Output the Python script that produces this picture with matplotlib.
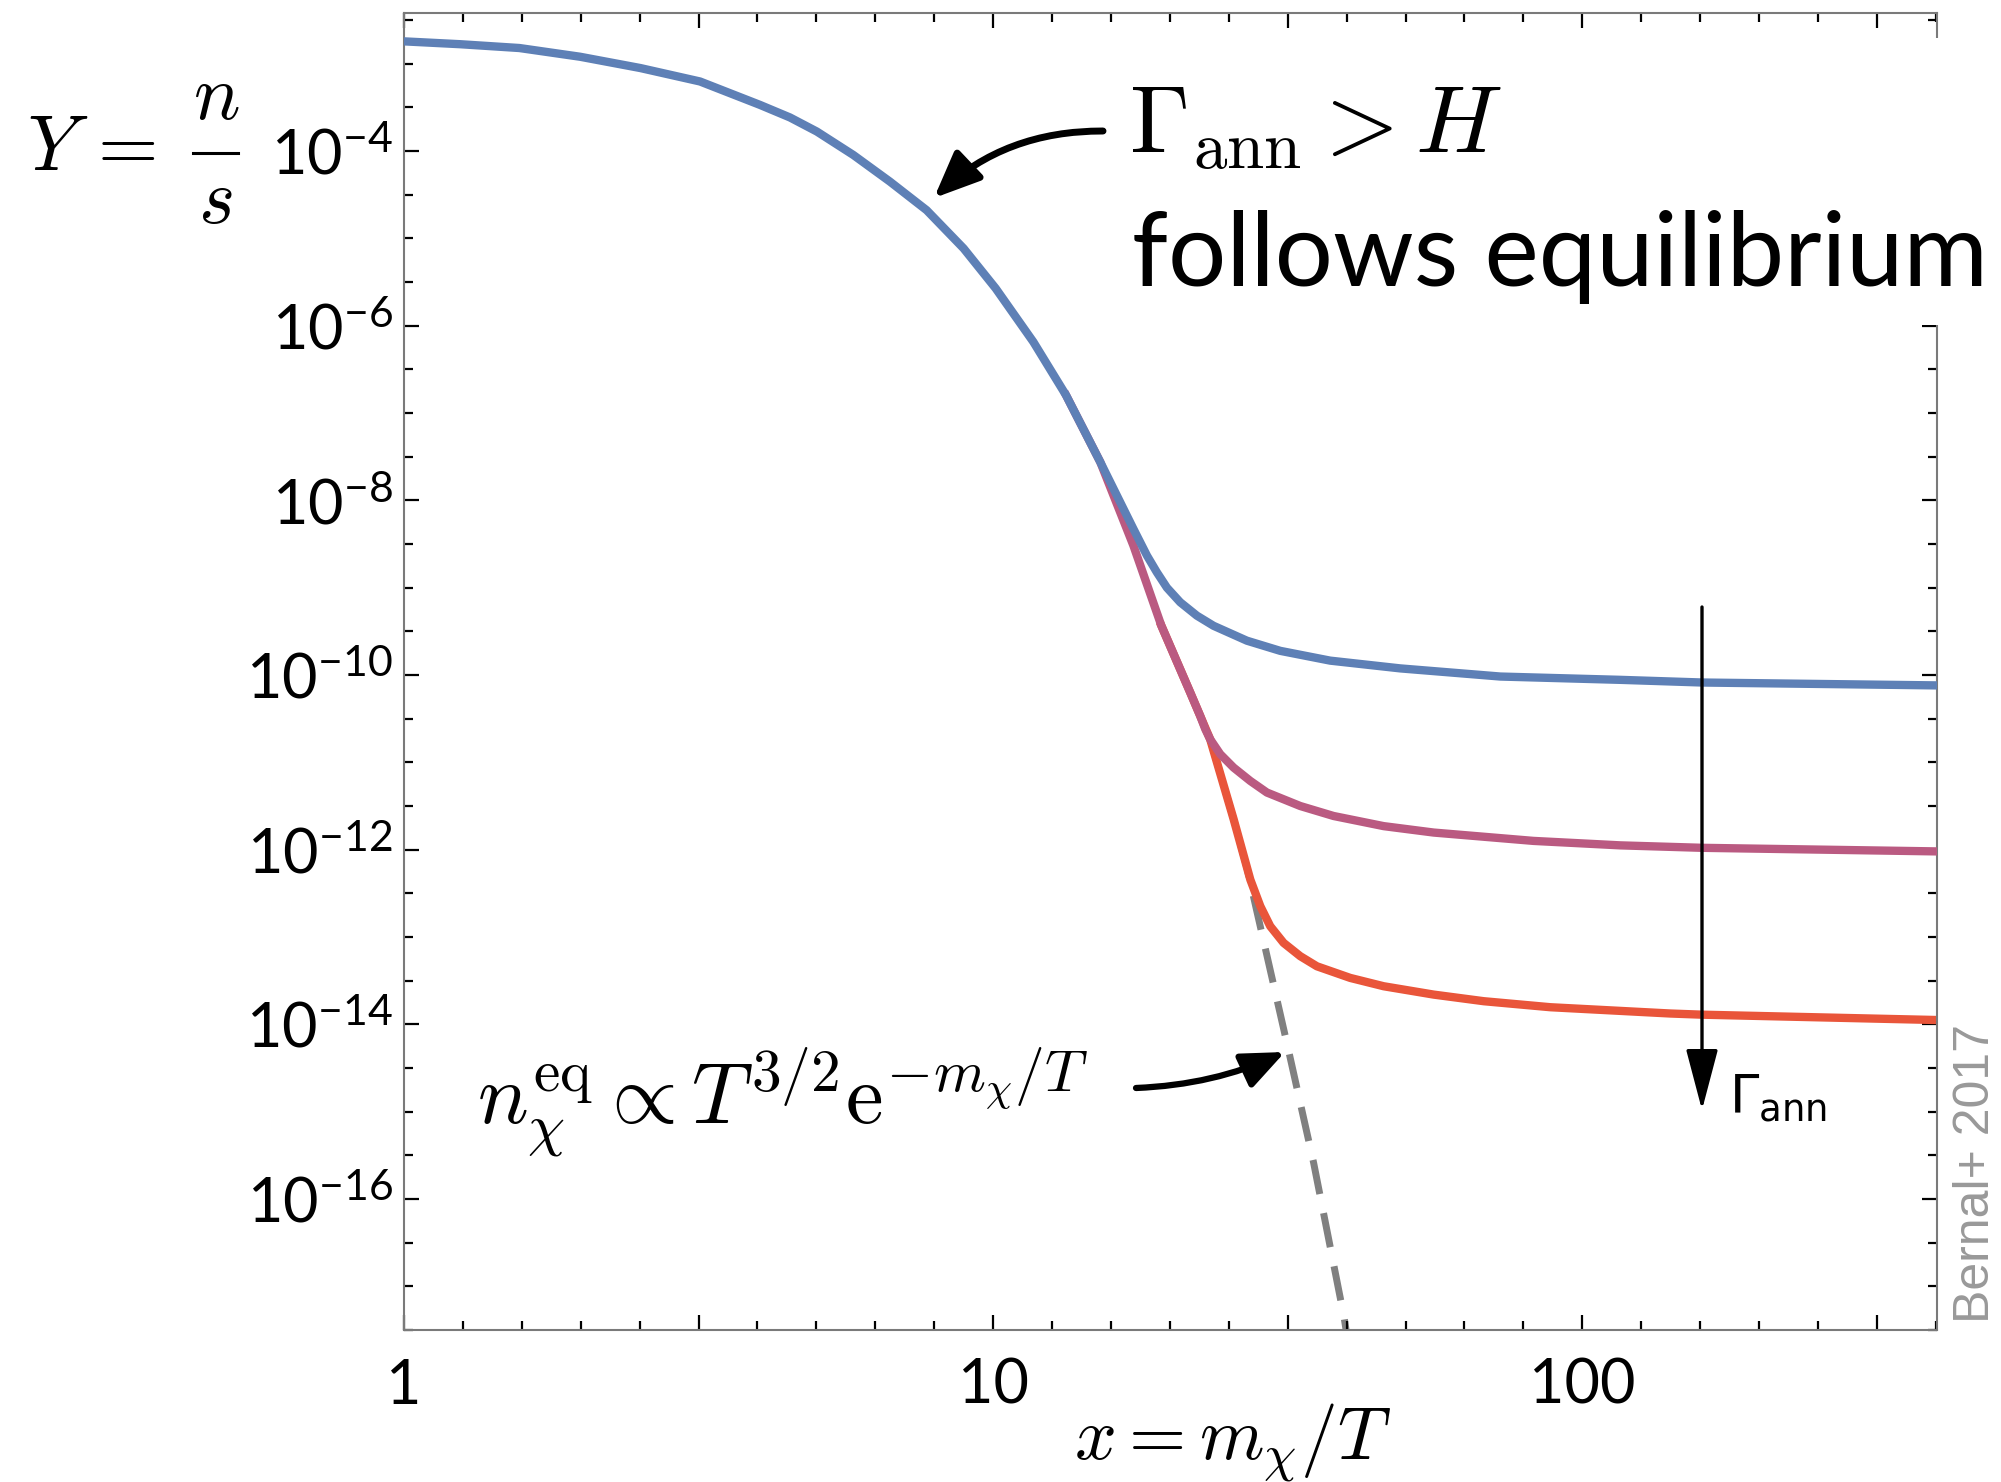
import numpy as np
import matplotlib
matplotlib.use("Agg")
import matplotlib.pyplot as plt
from matplotlib.patches import Rectangle, FancyArrowPatch
from matplotlib.lines import Line2D
from matplotlib.ticker import FixedLocator, NullFormatter

W, H = 2001, 1482

# curves: x = m/T, Y = n/s
x_blue = [1.0, 1.245, 1.57, 1.99, 2.52, 3.18, 4.02, 4.52, 5.02, 5.79, 6.68,
          7.71, 8.91, 10.1, 11.7, 13.3, 15.2, 17.3, 18.24, 18.96, 19.72,
          20.77, 22.17, 23.66, 26.96, 30.71, 37.33, 49.09, 72.6, 116.0,
          160.0, 400.0]
y_blue = [1.80e-3, 1.67e-3, 1.51e-3, 1.20e-3, 8.9e-4, 6.25e-4, 3.37e-4,
          2.42e-4, 1.67e-4, 9.0e-5, 4.46e-5, 2.10e-5, 7.66e-6, 2.67e-6,
          6.52e-7, 1.59e-7, 2.74e-8, 4.71e-9, 2.33e-9, 1.50e-9, 1.0e-9,
          6.81e-10, 4.78e-10, 3.66e-10, 2.47e-10, 1.89e-10, 1.46e-10,
          1.19e-10, 9.6e-11, 8.8e-11, 8.2e-11, 7.6e-11]

x_purple = [13.3, 15.2, 17.3, 19.3, 21.6, 22.46, 22.91, 23.35, 24.29, 25.59,
            27.32, 29.15, 33.21, 37.82, 46.0, 55.94, 82.6, 116.0, 159.6,
            400.0]
y_purple = [1.59e-7, 2.74e-8, 3.03e-9, 3.66e-10, 6.31e-11, 3.40e-11,
            2.40e-11, 1.84e-11, 1.24e-11, 8.71e-12, 6.12e-12, 4.51e-12,
            3.16e-12, 2.43e-12, 1.86e-12, 1.57e-12, 1.26e-12, 1.12e-12,
            1.05e-12, 9.55e-13]

x_red = [19.3, 21.6, 23.35, 25.59, 27.32, 28.41, 29.53, 31.11, 33.21, 35.44,
         40.37, 46.0, 55.94, 68.02, 88.26, 141.1, 159.6, 400.0]
y_red = [3.66e-10, 6.31e-11, 1.84e-11, 2.24e-12, 4.54e-13, 2.25e-13,
         1.33e-13, 8.57e-14, 6.03e-14, 4.62e-14, 3.40e-14, 2.73e-14,
         2.19e-14, 1.84e-14, 1.57e-14, 1.33e-14, 1.29e-14, 1.12e-14]

# equilibrium (dashed)
x_eq = [23.35, 25.59, 27.0, 31.7, 35.0, 39.4, 39.8]
y_eq = [1.84e-11, 2.24e-12, 5.94e-13, 5.13e-15, 2.57e-16, 4.47e-18, 2.9e-18]

x_major = [1.0, 10**0.5, 10.0, 10**1.5, 100.0, 10**2.5]
x_labels = ["1", "", "10", "", "100", ""]
y_major = [1e-4, 1e-6, 1e-8, 1e-10, 1e-12, 1e-14, 1e-16]
y_labels = [r"$\mathregular{10^{-4}}$", r"$\mathregular{10^{-6}}$",
            r"$\mathregular{10^{-8}}$", r"$\mathregular{10^{-10}}$",
            r"$\mathregular{10^{-12}}$", r"$\mathregular{10^{-14}}$",
            r"$\mathregular{10^{-16}}$"]

plt.rcParams["mathtext.fontset"] = "cm"
plt.rcParams["font.family"] = ["Lato", "DejaVu Sans"]


def fx(X):
    return X / W


def fy(Y):
    return 1 - Y / H


fig = plt.figure(figsize=(W / 100, H / 100), dpi=100)
ax = fig.add_axes([fx(404), fy(1330), (1937 - 404) / W, (1330 - 13) / H])
ax.set_xscale("log")
ax.set_yscale("log")

ax.plot(x_eq, y_eq, color="#808080", lw=5.0, dashes=(5.0, 2.8), zorder=1)
ax.plot(x_red, y_red, color="#E9553A", lw=6.0, zorder=2)
ax.plot(x_purple, y_purple, color="#BA5A81", lw=6.0, zorder=3)
ax.plot(x_blue, y_blue, color="#5E80B6", lw=6.0, zorder=4)

ax.set_xlim(1, 10**2.602)
ax.set_ylim(10**-17.5, 10**-2.42)

ax.set_xticks(x_major, x_labels)
ax.set_yticks(y_major, y_labels)
ax.xaxis.set_minor_locator(FixedLocator(10**np.arange(0, 2.65, 0.1)))
ax.yaxis.set_minor_locator(FixedLocator(10**np.arange(-17.5, -2.4, 0.5)))
ax.xaxis.set_minor_formatter(NullFormatter())
ax.yaxis.set_minor_formatter(NullFormatter())

ax.tick_params(which="both", direction="in", top=True, right=True,
               color="black", width=1.6, labelsize=44)
ax.tick_params(axis="x", pad=20)
ax.tick_params(axis="y", pad=8)
ax.tick_params(which="major", length=10.8)
ax.tick_params(which="minor", length=6.5)
for s in ax.spines.values():
    s.set_color("#7a7a7a")
    s.set_linewidth(1.5)

# white box behind the top-right text (hides the right frame there)
fig.add_artist(Rectangle((fx(1115), fy(325)), 1 - fx(1115), (325 - 38) / H,
                         transform=fig.transFigure, facecolor="white",
                         edgecolor="none", zorder=1))

# Y = n / s, built from pieces so the fraction is full size
fig.text(fx(27), fy(170), r"$Y\,=$", fontsize=56, ha="left", va="baseline")
fig.text(fx(216), fy(119), r"$n$", fontsize=56, ha="center", va="baseline")
fig.text(fx(215), fy(223), r"$s$", fontsize=56, ha="center", va="baseline")
fig.add_artist(Line2D([fx(193), fx(238)], [fy(153), fy(153)],
                      transform=fig.transFigure, color="black", lw=2.2))

fig.text(fx(1233), fy(1460), r"$x=m_\chi/T$", fontsize=53,
         ha="center", va="baseline")
fig.text(fx(1129), fy(153), r"$\Gamma_\mathrm{ann}>H$", fontsize=69,
         ha="left", va="baseline")
fig.text(fx(1132), fy(286), "follows equilibrium", fontsize=74,
         ha="left", va="baseline")
fig.text(fx(477), fy(1123),
         r"$n_\chi^\mathrm{eq}\propto T^{3/2}\mathrm{e}^{-m_\chi/T}$",
         fontsize=61, ha="left", va="baseline")
fig.text(fx(1729), fy(1113), r"$\Gamma_\mathrm{ann}$", fontsize=38,
         math_fontfamily="dejavusans", ha="left", va="baseline")
fig.text(fx(1976), fy(1323), "Bernal+ 2017", fontsize=36, color="#999999",
         family="Liberation Sans", rotation=90, ha="center", va="bottom")

arrows = [
    ((1103, 131), (934, 198), 0.2, 5.0, 28, 12),
    ((1136, 1088), (1285, 1052), 0.1, 4.5, 26, 11),
    ((1702, 607), (1702, 1110), 0.0, 2.4, 38, 10),
]
for tail, tip, rad, lw, hl, hw in arrows:
    fig.add_artist(FancyArrowPatch(
        (fx(tail[0]), fy(tail[1])), (fx(tip[0]), fy(tip[1])),
        transform=fig.transFigure,
        arrowstyle=f"-|>,head_length={hl},head_width={hw}",
        connectionstyle=f"arc3,rad={rad}", mutation_scale=1,
        lw=lw, color="black", shrinkA=0, shrinkB=0, zorder=4))

fig.savefig("out.png", dpi=100)
